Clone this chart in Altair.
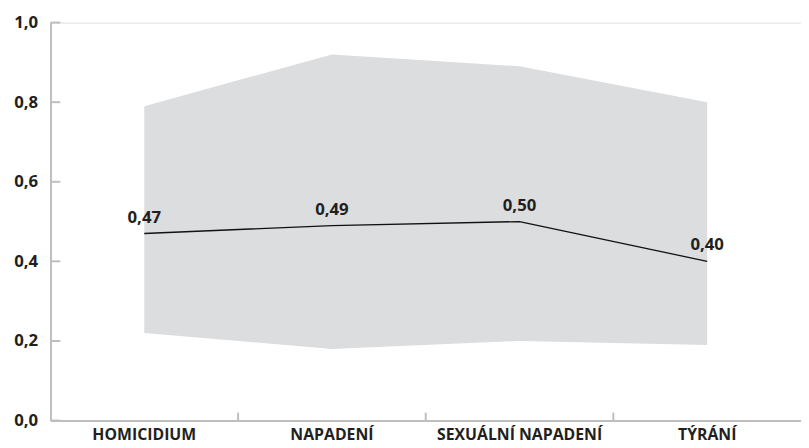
import altair as alt
import pandas as pd

categories = ["HOMICIDIUM", "NAPADENÍ", "SEXUÁLNÍ NAPADENÍ", "TÝRÁNÍ"]
mean_vals = [0.47, 0.49, 0.50, 0.40]
low_vals = [0.22, 0.18, 0.20, 0.19]
high_vals = [0.79, 0.92, 0.89, 0.80]
y_ticks = [0.0, 0.2, 0.4, 0.6, 0.8, 1.0]

df = pd.DataFrame({
    "cat": categories,
    "mean": mean_vals,
    "low": low_vals,
    "high": high_vals,
    "label": [f"{v:.2f}".replace(".", ",") for v in mean_vals],
})
ytick_df = pd.DataFrame({"v": y_ticks})
xtick_df = pd.DataFrame({"cat": categories[1:]})

W, H = 760, 403
FONT = "Open Sans"
TXT = "#231f20"
AX = "#bcbec0"
FS = 17

xscale = alt.Scale(type="band", domain=categories, paddingInner=0, paddingOuter=0)
yscale = alt.Scale(domain=[0, 1], nice=False)

x_enc = alt.X("cat:N", scale=xscale, bandPosition=0.5, sort=categories,
              axis=alt.Axis(title=None, ticks=False, labelAngle=0, labelFont=FONT,
                            labelFontSize=16, labelFontWeight="bold", labelColor=TXT,
                            labelPadding=6, labelLimit=0, labelBaseline="top",
                            domainColor=AX, domainWidth=2))

area = alt.Chart(df).mark_area(color="#dcdddf", opacity=1).encode(
    x=x_enc,
    y=alt.Y("low:Q", scale=yscale,
            axis=alt.Axis(title=None, values=y_ticks, ticks=False, grid=False,
                          labelExpr="replace(format(datum.value, '.1f'), '.', ',')",
                          labelFont=FONT, labelFontSize=FS, labelFontWeight="bold",
                          labelColor=TXT, labelPadding=13, domainColor=AX, domainWidth=2)),
    y2="high:Q",
)

line = alt.Chart(df).mark_line(color="#111111", strokeWidth=1.3).encode(
    x=alt.X("cat:N", scale=xscale, bandPosition=0.5, sort=categories),
    y=alt.Y("mean:Q", scale=yscale),
)

text = alt.Chart(df).mark_text(font=FONT, fontSize=FS, fontWeight="bold", color=TXT,
                               dy=-16, baseline="middle", align="center").encode(
    x=alt.X("cat:N", scale=xscale, bandPosition=0.5, sort=categories),
    y=alt.Y("mean:Q", scale=yscale),
    text="label:N",
)

yticks = alt.Chart(ytick_df).mark_rule(color=AX, strokeWidth=2).encode(
    x=alt.value(0), x2=alt.value(10),
    y=alt.Y("v:Q", scale=yscale),
)

xticks = alt.Chart(xtick_df).mark_rule(color=AX, strokeWidth=2).encode(
    x=alt.X("cat:N", scale=xscale, bandPosition=0, sort=categories),
    y=alt.value(H), y2=alt.value(H - 8),
)

chart = alt.layer(area, line, text, yticks, xticks).properties(
    width=W, height=H,
    padding={"left": 5, "top": 3, "right": 0, "bottom": 0},
).configure_view(stroke=None).configure(background="white")

chart.save("out.html", embed_options={"renderer": "svg", "actions": False})
